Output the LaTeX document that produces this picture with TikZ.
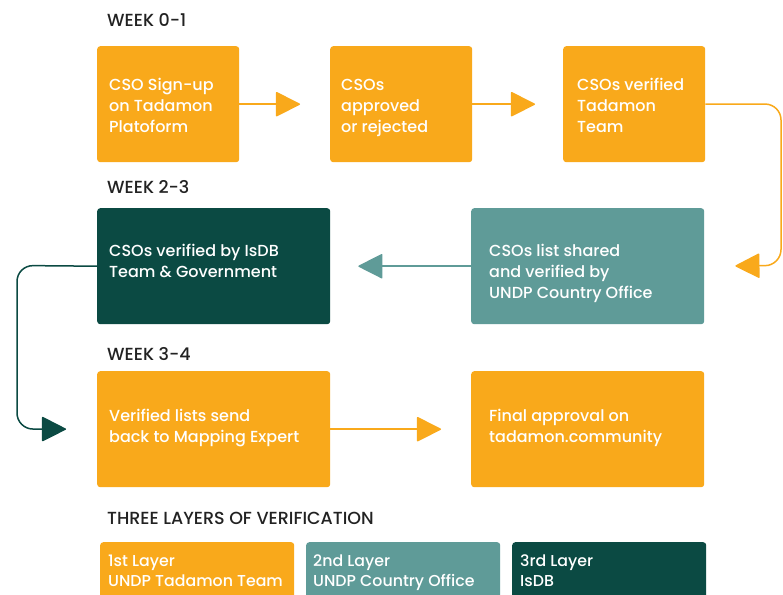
\documentclass[tikz,border=0pt]{standalone}
\usepackage{fontspec}
\setmainfont{Poppins Medium}
\usetikzlibrary{arrows.meta}
\definecolor{tOrange}{HTML}{F9A91B}
\definecolor{tTeal}{HTML}{5F9B98}
\definecolor{tDark}{HTML}{0B4A43}
\definecolor{tHead}{HTML}{222222}
\begin{document}
\begin{tikzpicture}[x=1pt,y=-1pt,
 box/.style={rounded corners=3pt, inner sep=0pt, anchor=north west, minimum height=116pt},
 smallbox/.style={box, minimum width=142pt},
 widebox/.style={box, minimum width=233pt},
 boxtext/.style={anchor=base west, inner sep=0pt, align=left, text=white,
   font=\fontsize{16}{21}\selectfont},
 head/.style={anchor=west, text=tHead, font=\fontsize{17.5}{20}\selectfont, inner sep=0pt},
 link/.style={line width=1.5pt, -{Triangle[length=25pt,width=25pt,round]}},
 legendbox/.style={rounded corners=3pt, anchor=north west, inner sep=0pt,
   minimum height=56pt, minimum width=194pt},
 legendtext/.style={anchor=base west, inner sep=0pt, align=left, text=white,
   font=\fontsize{15.8}{20}\selectfont}
]
\useasboundingbox (0,0) rectangle (783,594);
\clip (0,0) rectangle (783,594);
\fill[white] (0,0) rectangle (783,594);

% headers
\node[head] (h1) at (107,20) {WEEK 0-1};
\node[head] (h2) at (107,187) {WEEK 2-3};
\node[head] (h3) at (107,354) {WEEK 3-4};
\node[head] (h4) at (107,518) {THREE LAYERS OF VERIFICATION};

% row 1 (text anchored at the baseline of its last line)
\node[smallbox, fill=tOrange] (b1) at (97,46) {};
\node[boxtext] (b1t) at (109,132) {CSO Sign-up\\on Tadamon\\Platoform};
\node[smallbox, fill=tOrange] (b2) at (330,46) {};
\node[boxtext] (b2t) at (341,132) {CSOs\\approved\\or rejected};
\node[smallbox, fill=tOrange] (b3) at (563,46) {};
\node[boxtext] (b3t) at (577,132) {CSOs verified\\Tadamon\\Team};

% row 2
\node[widebox, fill=tDark] (dk) at (97,208) {};
\node[boxtext] (dkt) at (109,277) {CSOs verified by IsDB\\Team \& Government};
\node[widebox, fill=tTeal] (tl) at (471,208) {};
\node[boxtext] (tlt) at (489,298) {CSOs list shared\\and verified by\\UNDP Country Office};

% row 3
\node[widebox, fill=tOrange] (vl) at (97,371) {};
\node[boxtext] (vlt) at (109,442) {Verified lists send\\back to Mapping Expert};
\node[widebox, fill=tOrange] (fa) at (471,371) {};
\node[boxtext] (fat) at (489,442) {Final approval on\\tadamon.community};

% legend
\node[legendbox, fill=tOrange] (l1) at (100,542) {};
\node[legendtext] (l1t) at (108,586) {1st Layer\\UNDP Tadamon Team};
\node[legendbox, fill=tTeal] (l2) at (306,542) {};
\node[legendtext] (l2t) at (313,586) {2nd Layer\\UNDP Country Office};
\node[legendbox, fill=tDark] (l3) at (512,542) {};
\node[legendtext] (l3t) at (520,586) {3rd Layer\\IsDB};

% connectors
\draw[link, tOrange, shorten >=30pt] (b1.east) -- (b2.west);
\draw[link, tOrange, shorten >=28pt] (b2.east) -- (b3.west);
\coordinate (r1) at (781,104);
\coordinate (r2) at (781,265.5);
\draw[link, tOrange, shorten >=31pt, rounded corners=16pt] (b3.east) -- (r1) -- (r2) -- (tl.east);
\draw[link, tTeal, shorten >=28pt] (tl.west) -- (dk.east);
\coordinate (l1c) at (17,265.5);
\coordinate (l2c) at (17,429);
\draw[link, tDark, shorten >=31pt, rounded corners=16pt] (dk.west) -- (l1c) -- (l2c) -- (vl.west);
\draw[link, tOrange, shorten >=30pt] (vl.east) -- (fa.west);
\end{tikzpicture}
\end{document}
